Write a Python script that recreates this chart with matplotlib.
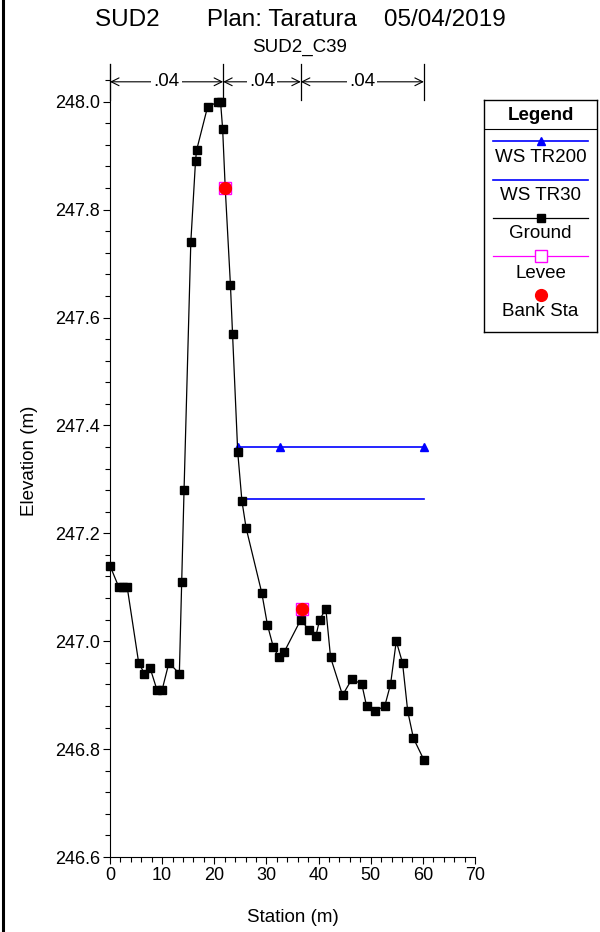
import matplotlib
matplotlib.use("Agg")
import matplotlib.pyplot as plt
from matplotlib.lines import Line2D
from matplotlib.ticker import MultipleLocator

plt.rcParams['font.family'] = ['Liberation Sans', 'DejaVu Sans']

# ground profile (station m, elevation m)
sta = [0, 1.7, 2.5, 3.3, 5.5, 6.6, 7.7, 9.0, 10.0, 11.3, 13.3, 13.75, 14.2,
       15.5, 16.4, 16.6, 18.7, 20.7, 21.2, 21.6, 22.1, 23.1, 23.5, 24.5, 25.3,
       26.1, 29.1, 30.2, 31.3, 32.4, 33.4, 36.6, 38.2, 39.5, 40.2, 41.4, 42.3,
       44.6, 46.4, 48.3, 49.2, 50.8, 52.7, 53.8, 54.9, 56.1, 57.1, 58.2, 60.2]
elev = [247.14, 247.10, 247.10, 247.10, 246.96, 246.94, 246.95, 246.91, 246.91,
        246.96, 246.94, 247.11, 247.28, 247.74, 247.89, 247.91, 247.99, 248.00,
        248.00, 247.95, 247.84, 247.66, 247.57, 247.35, 247.26, 247.21, 247.09,
        247.03, 246.99, 246.97, 246.98, 247.04, 247.02, 247.01, 247.04, 247.06,
        246.97, 246.90, 246.93, 246.92, 246.88, 246.87, 246.88, 246.92, 247.00,
        246.96, 246.87, 246.82, 246.78]

ws200_sta = [24.5, 32.6, 60.3]
ws200_elev = [247.36, 247.36, 247.36]
ws30_sta = [25.3, 60.3]
ws30_elev = [247.264, 247.264]

bank_sta = [22.1, 36.8]
bank_elev = [247.84, 247.06]

n_bounds = [0, 21.7, 36.6, 60.2]
n_vals = ['.04', '.04', '.04']

fig = plt.figure(figsize=(6, 9.32), dpi=100)
ax = fig.add_axes([110/600, 1-857/932, 365/600, 793/932])

ax.plot(ws200_sta, ws200_elev, color='#0000ff', lw=1.2, marker='^', ms=6, zorder=3)
ax.plot(ws30_sta, ws30_elev, color='#0000ff', lw=1.2, zorder=3)
ax.plot(sta, elev, color='black', lw=0.9, marker='s', ms=6, zorder=4, clip_on=False)
ax.plot(bank_sta, bank_elev, ls='none', marker='s', ms=9, mfc='none',
        mec='#ff00ff', mew=1, zorder=5)
ax.plot(bank_sta, bank_elev, ls='none', marker='o', ms=8.5, color='#ff0000', zorder=6)

ax.set_xlim(0, 70)
ax.set_ylim(246.6, 248.07)
ax.set_yticks([246.6, 246.8, 247.0, 247.2, 247.4, 247.6, 247.8, 248.0])
ax.yaxis.set_minor_locator(MultipleLocator(0.04))
ax.xaxis.set_major_locator(MultipleLocator(10))
ax.xaxis.set_minor_locator(MultipleLocator(2))
ax.yaxis.set_major_formatter(matplotlib.ticker.FormatStrFormatter('%.1f'))
ax.tick_params(which='major', length=5, width=0.8, labelsize=13, pad=2)
ax.tick_params(which='minor', length=3.5, width=0.8)
for s in ['top', 'right']:
    ax.spines[s].set_visible(False)
for s in ['left', 'bottom']:
    ax.spines[s].set_linewidth(0.8)

ax.set_xlabel('Station (m)', fontsize=13.5, labelpad=18)
ax.set_ylabel('Elevation (m)', fontsize=13.5, labelpad=12)

# manning n brackets
y_top, y_bot, y_arr = 248.07, 248.004, 248.037
for b in n_bounds:
    ax.plot([b, b], [y_bot, y_top], color='black', lw=0.9, clip_on=False)
for i, v in enumerate(n_vals):
    a, b = n_bounds[i], n_bounds[i+1]
    ax.annotate('', xy=(a, y_arr), xytext=(b, y_arr),
                arrowprops=dict(arrowstyle='<->', color='black', lw=0.8,
                                shrinkA=0, shrinkB=0, mutation_scale=14),
                annotation_clip=False)
    ax.text((a+b)/2, y_arr, v, ha='center', va='center', fontsize=13.5,
            bbox=dict(facecolor='white', edgecolor='none', pad=1.5))

fig.text(0.5, 1-20/932, 'SUD2       Plan: Taratura    05/04/2019',
         ha='center', va='center', fontsize=17.5)
fig.text(0.5, 1-47/932, 'SUD2_C39', ha='center', va='center', fontsize=13.5)

# left window border
fig.add_artist(Line2D([3/600, 3/600], [0, 1], color='black', lw=2.2))

# legend box
lg = fig.add_axes([484/600, 1-332/932, 113/600, 232/932])
lg.set_xlim(484, 597)
lg.set_ylim(332, 100)
lg.set_xticks([])
lg.set_yticks([])
for s in lg.spines.values():
    s.set_linewidth(1)
lg.text(540.5, 115, 'Legend', ha='center', va='center', fontsize=13.5, weight='bold')
lg.plot([484, 597], [129, 129], color='black', lw=0.8)
lg.plot([493, 588], [141, 141], color='#0000ff', lw=1.2)
lg.plot([540.5], [141], color='#0000ff', marker='^', ms=6)
lg.text(540.5, 157, 'WS TR200', ha='center', va='center', fontsize=13.5)
lg.plot([493, 588], [180, 180], color='#0000ff', lw=1.2)
lg.text(540.5, 196, 'WS TR30', ha='center', va='center', fontsize=13.5)
lg.plot([493, 588], [218, 218], color='black', lw=0.9)
lg.plot([540.5], [218], color='black', marker='s', ms=6)
lg.text(540.5, 234, 'Ground', ha='center', va='center', fontsize=13.5)
lg.plot([493, 588], [256, 256], color='#ff00ff', lw=0.9)
lg.plot([540.5], [256], marker='s', ms=9, mfc='white', mec='#ff00ff', mew=1)
lg.text(540.5, 273, 'Levee', ha='center', va='center', fontsize=13.5)
lg.plot([540.5], [295], color='#ff0000', marker='o', ms=8.5)
lg.text(540.5, 312, 'Bank Sta', ha='center', va='center', fontsize=13.5)

fig.savefig('out.png', dpi=100)
